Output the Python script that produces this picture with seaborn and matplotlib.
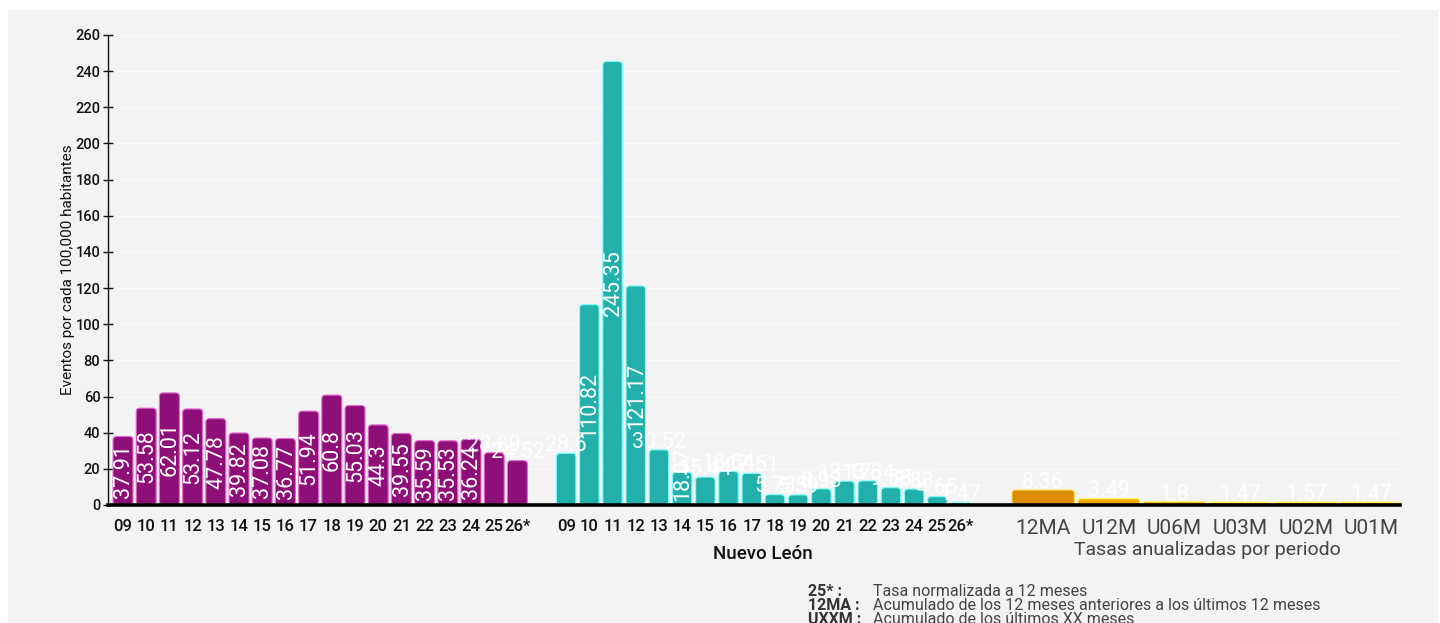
import numpy as np
import pandas as pd
import matplotlib
matplotlib.use('Agg')
import matplotlib.pyplot as plt
from matplotlib.patches import FancyBboxPatch, Rectangle
import seaborn as sns

# datos
anios = ['09', '10', '11', '12', '13', '14', '15', '16', '17',
         '18', '19', '20', '21', '22', '23', '24', '25', '26*']
tasa_estado = [37.91, 53.58, 62.01, 53.12, 47.78, 39.82, 37.08, 36.77, 51.94,
               60.8, 55.03, 44.3, 39.55, 35.59, 35.53, 36.24, 28.89, 24.52]
tasa_nuevo_leon = [28.6, 110.82, 245.35, 121.17, 30.52, 18.07, 15.44, 18.64, 17.51,
                   5.73, 5.59, 8.93, 13.17, 13.34, 9.58, 8.83, 4.65, 1.47]
periodos = ['12MA', 'U12M', 'U06M', 'U03M', 'U02M', 'U01M']
tasas_periodo = [8.36, 3.49, 1.8, 1.47, 1.57, 1.47]

MORADO = '#8f0f78'
TURQUESA = '#24b0aa'
NARANJA_1 = '#dc8c00'
NARANJA = '#f5a800'

sns.set_theme(style='white')
plt.rcParams['font.family'] = ['Roboto', 'DejaVu Sans']

W, H = 1440, 623
fig = plt.figure(figsize=(W / 100, H / 100), dpi=100)
fig.patch.set_facecolor('white')
fig.patches.append(Rectangle((8 / W, 0), 1430 / W, 613 / H, transform=fig.transFigure,
                             facecolor='#f3f3f3', edgecolor='none', zorder=-10))
ax = fig.add_axes([108 / W, 118 / H, 1292 / W, 470 / H])
ax.patch.set_alpha(0)

pos_a = np.arange(len(anios), dtype=float)
pos_b = np.arange(len(anios), dtype=float) + 19.1
pos_c = 39.66 + 2.83 * np.arange(len(periodos))

df_a = pd.DataFrame({'x': pos_a, 'valor': tasa_estado})
df_b = pd.DataFrame({'x': pos_b, 'valor': tasa_nuevo_leon})
df_c = pd.DataFrame({'x': pos_c, 'valor': tasas_periodo, 'periodo': periodos})

sns.barplot(data=df_a, x='x', y='valor', native_scale=True, orient='x', color=MORADO,
            saturation=1, width=0.86, errorbar=None, ax=ax)
sns.barplot(data=df_b, x='x', y='valor', native_scale=True, orient='x', color=TURQUESA,
            saturation=1, width=0.84, errorbar=None, ax=ax)
sns.barplot(data=df_c, x='x', y='valor', native_scale=True, orient='x', hue='periodo',
            palette=[NARANJA_1] + [NARANJA] * 5, saturation=1, width=0.95,
            errorbar=None, legend=False, dodge=False, ax=ax)

xmin, xmax = -0.647, 55.04
ax.set_xlim(xmin, xmax)
ax.set_ylim(0, 260)

# barras redondeadas
aspect = (260 / 470) / ((xmax - xmin) / 1292)
barras = []
for p in list(ax.patches):
    if not isinstance(p, Rectangle) or p.get_height() <= 0:
        continue
    x0, y0, w, h = p.get_x(), p.get_y(), p.get_width(), p.get_height()
    fc = p.get_facecolor()
    p.remove()
    r = min(0.16, w / 2, h / aspect / 2)
    ec = tuple(min(1, c + 0.35) for c in fc[:3])
    nueva = FancyBboxPatch((x0, y0), w, h,
                           boxstyle=f'round,pad=0,rounding_size={r}',
                           mutation_aspect=aspect, facecolor=fc,
                           edgecolor=ec, linewidth=0.8, zorder=2)
    ax.add_patch(nueva)
    barras.append((x0 + w / 2, nueva))


def barra_en(x):
    return min(barras, key=lambda b: abs(b[0] - x))[1]


# etiquetas
for xs, vals in [(pos_a, tasa_estado), (pos_b, tasa_nuevo_leon), (pos_c, tasas_periodo)]:
    for x, v in zip(xs, vals):
        txt = f'{v:g}'
        if v >= 35:
            ax.annotate(txt, (x, v / 2), xytext=(0.5, 0), textcoords='offset points',
                        rotation=90, ha='center', va='center', color='white',
                        fontsize=15.5, zorder=5)
        elif v == tasa_nuevo_leon[5] and x == pos_b[5]:
            # etiqueta que no cabe: se recorta dentro de la barra
            t = ax.annotate(txt, (x, 0), xytext=(0.5, 3), textcoords='offset points',
                            rotation=90, ha='center', va='bottom', color='white',
                            fontsize=15.5, zorder=5)
            t.set_clip_path(barra_en(x))
        else:
            ax.annotate(txt, (x, v), xytext=(0, -2), textcoords='offset points',
                        ha='center', va='bottom', color='white', fontsize=15.5,
                        alpha=0.95, zorder=5)

# ejes
ax.set_yticks(range(0, 261, 20))
ax.tick_params(axis='y', direction='inout', length=7, width=1, color='#111',
               labelsize=10.5, labelcolor='#111', pad=2, left=True)
for t in ax.get_yticklabels():
    t.set_fontweight('medium')
ax.set_ylabel('Eventos por cada 100,000 habitantes', fontsize=11, color='#111',
              labelpad=0)
ax.yaxis.grid(True, color='white', linewidth=0.9, alpha=0.55, zorder=0)
ax.set_axisbelow(True)

ax.set_xticks(list(pos_a) + list(pos_b) + list(pos_c))
ax.set_xticklabels(anios + anios + periodos)
ax.tick_params(axis='x', length=0, pad=10)
ax.set_xlabel('')
for i, t in enumerate(ax.get_xticklabels()):
    if i < 2 * len(anios):
        t.set_fontsize(12)
        t.set_color('#111')
        t.set_fontweight('medium')
    else:
        t.set_fontsize(15)
        t.set_color('#444')

for s in ['top', 'right']:
    ax.spines[s].set_visible(False)
ax.spines['left'].set_color('#111')
ax.spines['left'].set_linewidth(1)
ax.spines['bottom'].set_color('black')
ax.spines['bottom'].set_linewidth(2.6)

tr = ax.get_xaxis_transform()
ax.text(pos_b.mean(), -49 / 470, 'Nuevo León', transform=tr, ha='center',
        va='center', fontsize=13.5, color='#111', fontweight='medium')
ax.text(pos_c.mean(), -45 / 470, 'Tasas anualizadas por periodo', transform=tr,
        ha='center', va='center', fontsize=14, color='#444')

# notas
notas = [('25* :', 'Tasa normalizada a 12 meses'),
         ('12MA :', 'Acumulado de los 12 meses anteriores a los últimos 12 meses'),
         ('UXXM :', 'Acumulado de los últimos XX meses')]
for i, (k, d) in enumerate(notas):
    y = 1 - (591 + i * 14) / H
    fig.text(808 / W, y, k, fontsize=11.5, color='#333', fontweight='bold', va='center')
    fig.text(873 / W, y, d, fontsize=11.5, color='#444', va='center')

fig.savefig('out.png', dpi=100, facecolor=fig.get_facecolor())
